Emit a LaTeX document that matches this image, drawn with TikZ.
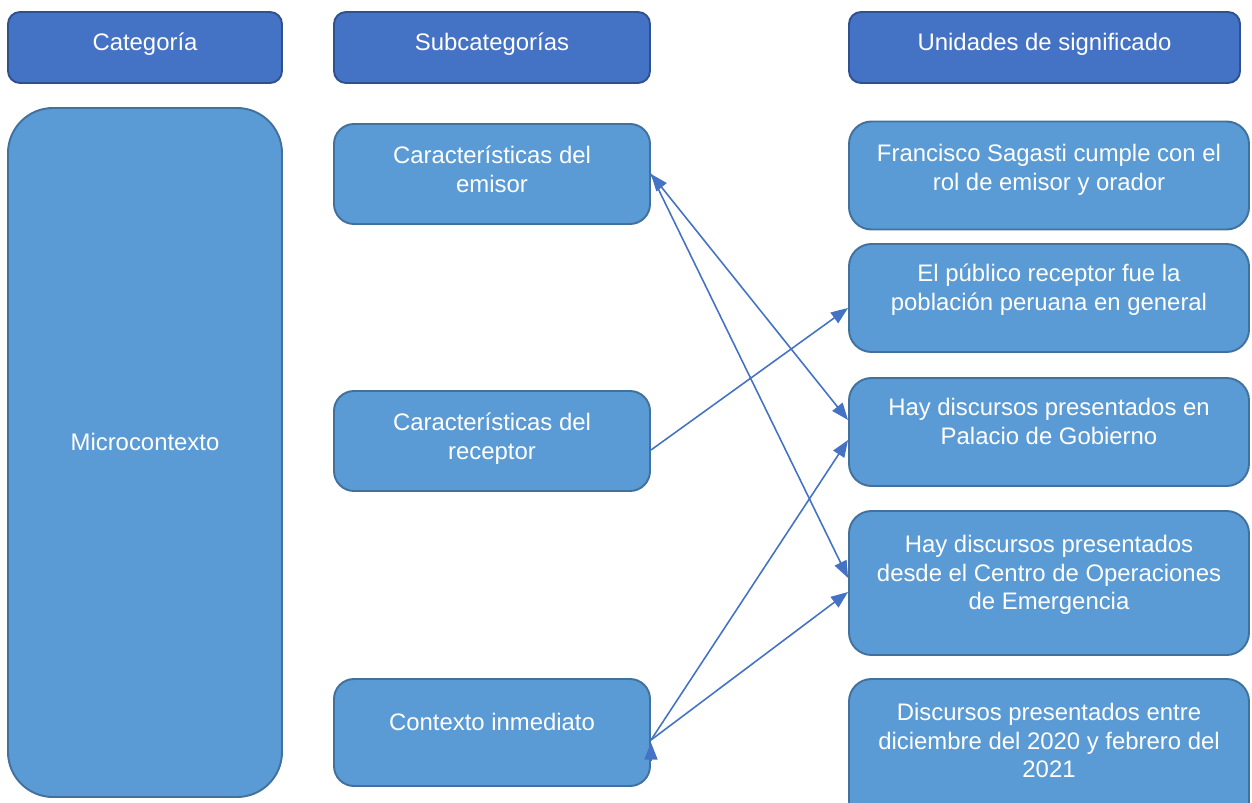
\documentclass[tikz,border=0pt]{standalone}
\usepackage{fontspec}
\setmainfont{Liberation Sans}
\usetikzlibrary{arrows.meta}
\definecolor{headblue}{HTML}{4472C4}
\definecolor{headline}{HTML}{2F528F}
\definecolor{cellblue}{HTML}{5B9BD5}
\definecolor{cellline}{HTML}{41719C}
\definecolor{linkblue}{HTML}{4472C4}
\tikzset{lift/.style={execute at end node={\rule[-#1]{0pt}{#1}}}}
\tikzstyle{head}=[rectangle,rounded corners=0.24cm,fill=headblue,draw=headline,line width=1.1pt,text=white,minimum height=1.42cm,inner sep=0pt,lift=6.5pt]
\tikzstyle{cell}=[rectangle,rounded corners=0.4cm,fill=cellblue,draw=cellline,line width=1.1pt,text=white,align=center,inner sep=0pt]
\tikzstyle{link}=[draw=linkblue,line width=0.9pt,>={Triangle[length=0.34cm,width=0.26cm]}]

\begin{document}
\begin{tikzpicture}[font=\fontsize{13.6}{16.4}\selectfont]
		\useasboundingbox (0,0) rectangle (25.04,-16.06);
		\node[head,minimum width=5.48cm] (cat) at (2.90,-0.95) {Categoría};
		\node[head,minimum width=6.32cm] (sub) at (9.84,-0.95) {Subcategorías};
		\node[head,minimum width=7.82cm] (uni) at (20.89,-0.95) {Unidades de significado};
		
		\node[cell,lift=12pt,rounded corners=0.9cm,minimum width=5.48cm,minimum height=13.78cm] (micro) at (2.90,-9.05) {Microcontexto};
		
		\tikzstyle{sub}=[cell,minimum width=6.32cm,minimum height=2cm]
		\node[sub,lift=5pt] (emisor) at (9.84,-3.48) {Características del\\emisor};
		\node[sub,lift=5pt] (receptor) at (9.84,-8.82) {Características del\\receptor};
		\node[sub,lift=12pt,minimum height=2.14cm] (contexto) at (9.84,-14.65) {Contexto inmediato};
		
		\tikzstyle{unit}=[cell,rounded corners=0.45cm,minimum width=8cm,minimum height=2.16cm]
		\node[unit,lift=9pt] (francisco) at (20.98,-3.51) {Francisco Sagasti cumple con el\\rol de emisor y orador};
		\node[unit,lift=12pt] (publico) at (20.98,-5.96) {El público receptor fue la\\población peruana en general};
		\node[unit,lift=12pt] (palacio) at (20.98,-8.64) {Hay discursos presentados en\\Palacio de Gobierno};
		\node[unit,lift=12pt,minimum height=2.88cm] (centro) at (20.98,-11.66) {Hay discursos presentados\\desde el Centro de Operaciones\\de Emergencia};
		\node[unit,lift=12pt,minimum height=2.88cm] (entre) at (20.98,-15.02) {Discursos presentados entre\\diciembre del 2020 y febrero del\\2021};
		
		\draw[link,<->] (emisor.east) -- ([yshift=0.24cm]palacio.west);
		\draw[link,->] (emisor.east) -- ([yshift=0.1cm]centro.west);
		\draw[link,->] ([yshift=-0.18cm]receptor.east) -- ([yshift=-0.2cm]publico.west);
		\draw[link,->] ([yshift=-0.15cm]contexto.east) -- ([yshift=-0.16cm]palacio.west);
		\draw[link,->] ([yshift=-0.15cm]contexto.east) -- ([yshift=-0.18cm]centro.west);
		
		\coordinate (ctxtip) at ([yshift=-0.2cm]contexto.east);
		\coordinate (ctxfoot) at ([yshift=-0.57cm]contexto.east);
		\draw[link,->] (ctxfoot) -- (ctxtip);
		\end{tikzpicture}
\end{document}
